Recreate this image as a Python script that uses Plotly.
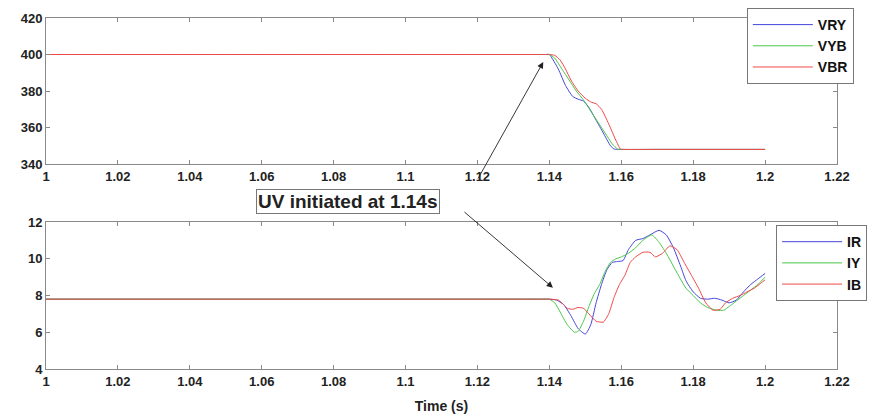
import plotly.graph_objects as go

# ---------------- data ----------------
t_vry = [1.0, 1.07, 1.13, 1.139, 1.14, 1.1425, 1.1445, 1.1465, 1.148, 1.1495, 1.151, 1.153, 1.155, 1.157, 1.158, 1.159, 1.17, 1.2]
v_vry = [400, 400, 400, 400, 400, 392, 383, 377, 375.5, 374.5, 371, 364, 357, 350, 348.2, 348, 348, 348]

t_vyb = [1.0, 1.07, 1.13, 1.139, 1.14, 1.1415, 1.1435, 1.1455, 1.1475, 1.1495, 1.1515, 1.1535, 1.1555, 1.1575, 1.159, 1.16, 1.17, 1.2]
v_vyb = [400, 400, 400, 400, 400, 398, 392, 386, 380, 375, 369, 363, 357, 351, 348.2, 348, 348, 348]

t_vbr = [1.0, 1.07, 1.13, 1.139, 1.14, 1.1415, 1.143, 1.1445, 1.146, 1.148, 1.150, 1.1515, 1.153, 1.1545, 1.1565, 1.1585, 1.1598, 1.161, 1.17, 1.2]
v_vbr = [400, 400, 400, 400, 400, 399.5, 397, 392, 386, 380, 376, 374, 373, 370, 362, 353, 348.2, 348, 348, 348]

t_ir = [1.0, 1.07, 1.13, 1.139, 1.14, 1.142, 1.144, 1.146, 1.148, 1.150, 1.1515, 1.153, 1.1545, 1.156, 1.1575, 1.159,
        1.1605, 1.162, 1.164, 1.166, 1.168, 1.1705, 1.1725, 1.1745, 1.1765, 1.178, 1.18, 1.182,
        1.184, 1.186, 1.188, 1.190, 1.192, 1.194, 1.196, 1.198, 1.2]
i_ir = [7.8, 7.8, 7.8, 7.8, 7.8, 7.75, 7.5, 6.9, 6.2, 5.9, 6.4, 7.6, 8.6, 9.4, 9.8, 9.85,
        9.9, 10.5, 11.0, 11.1, 11.3, 11.55, 11.3, 10.6, 9.6, 8.8, 8.2, 7.85,
        7.8, 7.85, 7.75, 7.6, 7.75, 8.2, 8.6, 8.9, 9.2]

t_iy = [1.0, 1.07, 1.13, 1.139, 1.14, 1.1415, 1.143, 1.145, 1.147, 1.148, 1.1495, 1.151, 1.1525, 1.154, 1.1555, 1.157,
        1.1585, 1.160, 1.162, 1.164, 1.166, 1.1685, 1.1705, 1.1728, 1.1756, 1.178, 1.18, 1.182,
        1.184, 1.1865, 1.1885, 1.19, 1.192, 1.194, 1.196, 1.198, 1.2]
i_iy = [7.8, 7.8, 7.8, 7.8, 7.8, 7.6, 7.1, 6.4, 6.0, 6.05, 6.6, 7.4, 8.1, 8.6, 9.3, 9.8,
        10.0, 10.1, 10.3, 10.6, 11.0, 11.3, 10.9, 10.2, 9.2, 8.4, 8.0, 7.6,
        7.35, 7.2, 7.2, 7.4, 7.7, 8.0, 8.3, 8.6, 9.0]

t_ib = [1.0, 1.07, 1.13, 1.139, 1.14, 1.1425, 1.144, 1.145, 1.1465, 1.148, 1.1495, 1.151, 1.153, 1.155, 1.1565, 1.158,
        1.1595, 1.161, 1.1625, 1.164, 1.166, 1.168, 1.1695, 1.1715, 1.1735, 1.1755, 1.1775, 1.1795,
        1.1815, 1.1835, 1.1855, 1.1875, 1.189, 1.191, 1.193, 1.195, 1.197, 1.199, 1.2]
i_ib = [7.8, 7.8, 7.8, 7.8, 7.8, 7.75, 7.5, 7.3, 7.25, 7.35, 7.3, 7.0, 6.6, 6.55, 7.0, 7.9,
        8.6, 9.1, 9.8, 10.1, 10.35, 10.35, 10.1, 10.3, 10.7, 10.5, 9.8, 9.1,
        8.4, 7.6, 7.2, 7.25, 7.6, 7.85, 8.0, 8.2, 8.4, 8.7, 8.85]

x_ticks = [1, 1.02, 1.04, 1.06, 1.08, 1.1, 1.12, 1.14, 1.16, 1.18, 1.2, 1.22]
x_tick_text = ["1", "1.02", "1.04", "1.06", "1.08", "1.1", "1.12", "1.14", "1.16", "1.18", "1.2", "1.22"]
v_ticks = [340, 360, 380, 400, 420]
i_ticks = [4, 6, 8, 10, 12]

# ---------------- figure ----------------
BLUE = "#4545dc"
GREEN = "#48c848"
RED = "#f04848"
FONT = "Liberation Sans"

fig = go.Figure()
line_w = 1
def add(tx, vy, name, color, xa, ya, lg):
    fig.add_trace(go.Scatter(x=tx, y=vy, name=name, mode="lines",
                             line=dict(color=color, width=line_w, shape="spline", smoothing=0.5),
                             xaxis=xa, yaxis=ya, legend=lg))

add(t_vry, v_vry, "VRY", BLUE, "x", "y", "legend")
add(t_vyb, v_vyb, "VYB", GREEN, "x", "y", "legend")
add(t_vbr, v_vbr, "VBR", RED, "x", "y", "legend")
add(t_ir, i_ir, "IR", BLUE, "x2", "y2", "legend2")
add(t_iy, i_iy, "IY", GREEN, "x2", "y2", "legend2")
add(t_ib, i_ib, "IB", RED, "x2", "y2", "legend2")

axis_common = dict(
    showgrid=False, zeroline=False, showline=True, linecolor="#8a8a8a", linewidth=1,
    mirror="ticks", ticks="inside", ticklen=4, tickcolor="#8a8a8a",
    tickfont=dict(family=FONT, size=13, color="#222", weight="bold"),
)

legend_common = dict(xanchor="left", yanchor="top", bgcolor="white",
                     bordercolor="#777", borderwidth=1, itemwidth=60,
                     font=dict(family=FONT, size=14, color="#111", weight="bold"), tracegroupgap=0)

fig.update_layout(
    width=872, height=411,
    margin=dict(l=38, r=43, t=10, b=50, autoexpand=False),
    paper_bgcolor="white", plot_bgcolor="white",
    xaxis=dict(domain=[0, 1], range=[1, 1.22], tickvals=x_ticks, ticktext=x_tick_text, anchor="y", **axis_common),
    yaxis=dict(domain=[0.584, 1], range=[340, 420], tickvals=v_ticks, anchor="x", **axis_common),
    xaxis2=dict(domain=[0, 1], range=[1, 1.22], tickvals=x_ticks, ticktext=x_tick_text, anchor="y2",
                title=dict(text="Time (s)", font=dict(family=FONT, size=14, color="#222", weight="bold"), standoff=13),
                **axis_common),
    yaxis2=dict(domain=[0, 0.4188], range=[4, 12], tickvals=i_ticks, anchor="x2", **axis_common),
    legend=dict(x=0.886, y=1.0285, **legend_common),
    legend2=dict(x=0.923, y=0.410, **legend_common),
    showlegend=True,
)

# text box
fig.add_annotation(
    x=0.3818, y=0.477, xref="paper", yref="paper", xanchor="center", yanchor="middle",
    text="<b>UV initiated at 1.14s</b>", showarrow=False,
    font=dict(family=FONT, size=19, color="#222"),
    bordercolor="#777", borderwidth=1, borderpad=1, bgcolor="white",
)
# arrows
fig.add_annotation(
    x=1.1383, y=395.9, xref="x", yref="y", ax=-66, ay=118, text="", showarrow=True,
    arrowhead=2, arrowsize=1.4, arrowwidth=0.9, arrowcolor="#222",
)
fig.add_annotation(
    x=1.141, y=8.42, xref="x2", yref="y2", ax=-90, ay=-77, text="", showarrow=True,
    arrowhead=2, arrowsize=1.4, arrowwidth=0.9, arrowcolor="#222",
)

fig.write_html("out.html")
